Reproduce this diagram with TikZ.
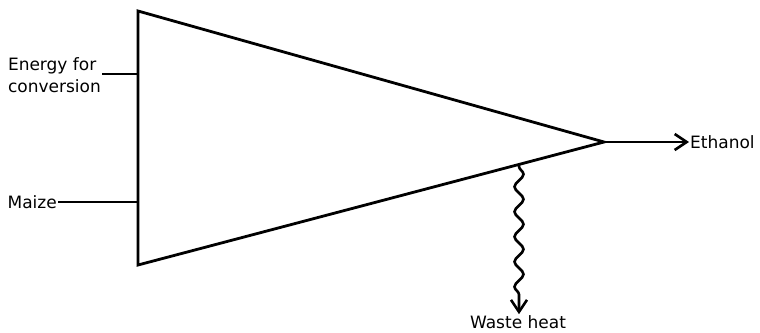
\documentclass[tikz,border=0pt]{standalone}
\usepackage{fontspec}
\setmainfont{DejaVu Sans}
\usetikzlibrary{arrows.meta,decorations.pathmorphing,calc}
\begin{document}
\begin{tikzpicture}[x=1pt,y=-1pt,
  lbl/.style={font=\fontsize{17}{22}\selectfont, inner sep=1pt},
  flow/.style={line width=2.6pt},
  barb/.style={-{Straight Barb[length=12pt,width=16pt,line width=2.6pt]}}]
\useasboundingbox (0,0) rectangle (760,332);
\coordinate (tl) at (138,11);
\coordinate (bl) at (138,265);
\coordinate (ap) at (604,142);
\draw[line width=2.8pt, line join=miter] (tl) -- (ap) -- (bl) -- cycle;
\coordinate (ein) at (138,74);
\coordinate (min) at (138,202);
\node[lbl, anchor=east, align=left] (energy) at (102,75) {Energy for\\conversion};
\node[lbl, anchor=east] (maize) at (58,202) {Maize};
\node[lbl, anchor=west] (ethanol) at (689,142) {Ethanol};
\node[lbl, anchor=center] (waste) at (518,322) {Waste heat};
\draw[flow] (energy.east |- ein) -- (ein);
\draw[flow] (maize.east) -- (min);
\draw[flow, barb] (ap) -- (ethanol.west);
\coordinate (wst) at ($(bl)!0.8176!(ap)$);
\draw[flow, barb, decorate, decoration={snake, segment length=25pt, amplitude=4.5pt, pre length=2pt, post length=13pt}] (wst) -- (wst |- waste.north);
\end{tikzpicture}
\end{document}
